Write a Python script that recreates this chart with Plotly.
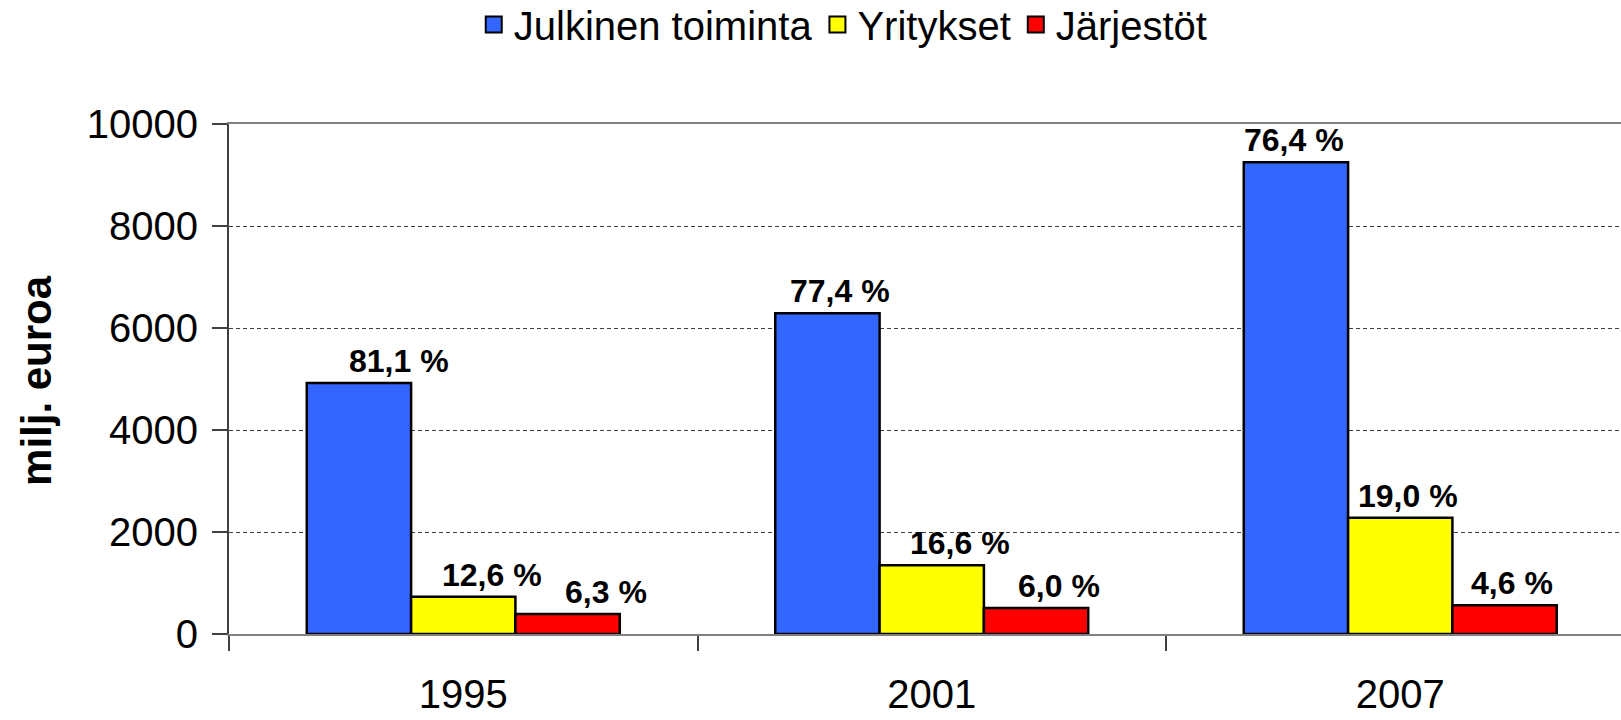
import plotly.graph_objects as go

# ---------------- data ----------------
YEARS = ["1995", "2001", "2007"]
SERIES = ["Julkinen toiminta", "Yritykset", "Järjestöt"]
JULKINEN = [4920, 6290, 9250]
YRITYKSET = [730, 1350, 2280]
JARJESTOT = [390, 510, 565]
JULKINEN_PCT = ["81,1 %", "77,4 %", "76,4 %"]
YRITYKSET_PCT = ["12,6 %", "16,6 %", "19,0 %"]
JARJESTOT_PCT = ["6,3 %", "6,0 %", "4,6 %"]
Y_TICKS = [0, 2000, 4000, 6000, 8000, 10000]
Y_TICKTEXT = ["0", "2000", "4000", "6000", "8000", "10000"]
Y_TITLE = "milj. euroa"

# ---------------- style ----------------
COLORS = ["#3366FF", "#FFFF00", "#FF0000"]
LABEL_XSHIFT = [[40, 13, -2], [29, 28, 8], [38, 23, 7]]  # px, label offsets as in original
BARGAP = 0.332
FONT = "Liberation Sans, Arial, sans-serif"

values = [JULKINEN, YRITYKSET, JARJESTOT]
labels = [JULKINEN_PCT, YRITYKSET_PCT, JARJESTOT_PCT]

fig = go.Figure()
for name, vals, col in zip(SERIES, values, COLORS):
    fig.add_trace(go.Bar(
        x=YEARS, y=vals, name=name, showlegend=False,
        marker=dict(color=col, line=dict(color="#000000", width=2.5)),
        hoverinfo="x+y+name",
    ))
# legend proxies (larger square symbols)
for name, col in zip(SERIES, COLORS):
    fig.add_trace(go.Scatter(
        x=[None], y=[None], mode="markers", name=name,
        marker=dict(symbol="square", size=30, color=col,
                    line=dict(color="#000000", width=2)),
    ))

bw = (1 - BARGAP) / len(SERIES)
annotations = []
for j, (vals, labs) in enumerate(zip(values, labels)):
    for i, (v, t) in enumerate(zip(vals, labs)):
        annotations.append(dict(
            x=i + (j - 1) * bw, y=v, xref="x", yref="y",
            text="<b>%s</b>" % t, showarrow=False,
            xanchor="center", yanchor="bottom",
            xshift=LABEL_XSHIFT[j][i], yshift=2,
            font=dict(family=FONT, size=32, color="#000000"),
        ))
# y-axis title
annotations.append(dict(
    x=-0.1387, y=0.498, xref="paper", yref="paper",
    text="<b>%s</b>" % Y_TITLE, showarrow=False, textangle=-90,
    xanchor="center", yanchor="middle",
    font=dict(family=FONT, size=42, color="#000000"),
))

fig.update_layout(
    width=1621, height=720,
    margin=dict(l=229, r=0, t=124, b=86, autoexpand=False),
    paper_bgcolor="white", plot_bgcolor="white",
    barmode="group", bargap=BARGAP, bargroupgap=0,
    font=dict(family=FONT, color="#000000"),
    annotations=annotations,
    legend=dict(
        orientation="h", xref="container", yref="container",
        x=0.5202, xanchor="center", y=0.966, yanchor="middle",
        font=dict(family=FONT, size=40, color="#000000"),
        itemwidth=30, bgcolor="rgba(0,0,0,0)",
    ),
    xaxis=dict(
        type="category", range=[-0.5, 2.5 - 13.5 / 468.5],
        tickson="boundaries", ticks="outside", ticklen=15, tickwidth=1.5,
        tickcolor="#404040", automargin=False,
        showline=True, linecolor="#808080", linewidth=2, mirror=True,
        showgrid=False, ticklabelstandoff=24,
        tickfont=dict(family=FONT, size=40, color="#000000"),
    ),
    yaxis=dict(
        range=[0, 10000], tickvals=Y_TICKS, ticktext=Y_TICKTEXT,
        ticks="outside", ticklen=15, automargin=False,
        tickwidth=1.5, tickcolor="#404040",
        showline=True, linecolor="#404040", linewidth=2,
        showgrid=True, gridcolor="#404040", gridwidth=1, griddash="4px,3px",
        zeroline=False, ticklabelstandoff=6,
        tickfont=dict(family=FONT, size=40, color="#000000"),
    ),
)

fig.write_html(
    "out.html",
    config={"displayModeBar": False},
    post_script="document.body.style.margin='0';document.body.style.overflow='hidden';",
)
